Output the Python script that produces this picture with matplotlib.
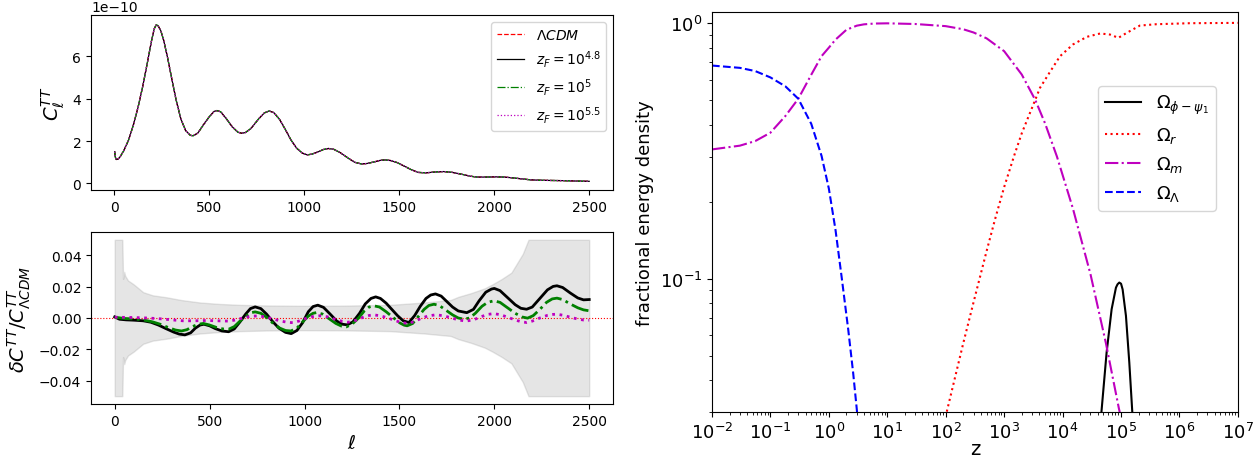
import numpy as np
import matplotlib
matplotlib.use("Agg")
import matplotlib.pyplot as plt
from matplotlib.ticker import LogLocator, NullFormatter

# -----------------------------
# CMB TT spectrum (units of 1e-10)
# -----------------------------
ell_cl = [2, 5, 10, 20, 30, 50, 75, 100, 125, 150, 175, 195, 210, 220, 230, 245,
          260, 280, 300, 325, 350, 375, 400, 415, 440, 470, 500, 525, 540, 560,
          590, 620, 650, 670, 690, 720, 760, 790, 815, 840, 870, 900, 930, 960,
          990, 1015, 1040, 1070, 1100, 1127, 1155, 1190, 1230, 1265, 1300, 1330,
          1370, 1400, 1426, 1455, 1490, 1530, 1565, 1600, 1640, 1690, 1734, 1780,
          1830, 1875, 1910, 1960, 2010, 2050, 2090, 2140, 2190, 2240, 2300, 2370,
          2440, 2500]
cl_lcdm = [1.50, 1.25, 1.13, 1.15, 1.25, 1.55, 2.05, 2.75, 3.60, 4.60, 5.75, 6.70,
           7.30, 7.48, 7.45, 7.20, 6.75, 5.95, 5.05, 3.95, 3.05, 2.50, 2.27, 2.25,
           2.38, 2.78, 3.15, 3.40, 3.44, 3.38, 3.05, 2.68, 2.42, 2.37, 2.40, 2.60,
           3.05, 3.33, 3.42, 3.34, 3.02, 2.55, 2.05, 1.66, 1.43, 1.35, 1.38, 1.48,
           1.60, 1.65, 1.61, 1.45, 1.20, 1.00, 0.92, 0.94, 1.02, 1.09, 1.11, 1.08,
           0.98, 0.80, 0.64, 0.52, 0.50, 0.54, 0.56, 0.52, 0.43, 0.34, 0.30, 0.30,
           0.31, 0.30, 0.27, 0.22, 0.17, 0.15, 0.14, 0.13, 0.11, 0.10]

# -----------------------------
# relative residuals dC/C
# -----------------------------
ell_k = [0, 25, 60, 100, 150, 190, 230, 270, 310, 340, 370, 400, 425, 450, 470,
         500, 530, 565, 600, 630, 660, 690, 715, 740, 770, 800, 830, 865, 900,
         930, 960, 990, 1020, 1045, 1070, 1100, 1135, 1170, 1200, 1225, 1255,
         1290, 1320, 1350, 1375, 1400, 1430, 1460, 1490, 1520, 1550, 1580, 1610,
         1640, 1665, 1690, 1720, 1750, 1780, 1810, 1855, 1890, 1920, 1955, 1985,
         2000, 2030, 2070, 2110, 2140, 2170, 2200, 2240, 2280, 2310, 2330, 2360,
         2400, 2440, 2470, 2500]
res_48 = [0.0007, -0.0008, -0.0012, -0.0014, -0.0018, -0.0027, -0.0045, -0.0068,
          -0.0090, -0.0103, -0.0108, -0.0095, -0.0065, -0.0045, -0.0040, -0.0050,
          -0.0068, -0.0083, -0.0088, -0.0070, -0.0025, 0.0025, 0.0060, 0.0071,
          0.0060, 0.0025, -0.0020, -0.0065, -0.0092, -0.0100, -0.0080, -0.0030,
          0.0040, 0.0073, 0.0082, 0.0068, 0.0025, -0.0020, -0.0040, -0.0044,
          -0.0025, 0.0030, 0.0090, 0.0125, 0.0135, 0.0125, 0.0095, 0.0055, 0.0015,
          -0.0018, -0.0029, 0.0015, 0.0075, 0.0125, 0.0147, 0.0154, 0.0140,
          0.0105, 0.0070, 0.0045, 0.0034, 0.0055, 0.0110, 0.0165, 0.0185, 0.0189,
          0.0175, 0.0130, 0.0085, 0.0062, 0.0056, 0.0070, 0.0125, 0.0180, 0.0202,
          0.0206, 0.0195, 0.0160, 0.0128, 0.0116, 0.0118]

ell_g = [0, 50, 100, 150, 200, 240, 280, 320, 352, 380, 410, 440, 467, 500, 535,
         570, 600, 630, 660, 690, 715, 740, 770, 800, 835, 870, 900, 928, 960,
         990, 1020, 1045, 1065, 1095, 1130, 1165, 1195, 1220, 1250, 1285, 1315,
         1340, 1365, 1395, 1430, 1465, 1500, 1525, 1541, 1570, 1600, 1630, 1655,
         1682, 1710, 1745, 1780, 1810, 1840, 1870, 1900, 1935, 1965, 1998, 2030,
         2070, 2110, 2145, 2175, 2205, 2240, 2275, 2305, 2330, 2360, 2400, 2440,
         2470, 2500]
res_5 = [0.0005, -0.0003, -0.0006, -0.0012, -0.0025, -0.0040, -0.0060, -0.0077,
         -0.0083, -0.0075, -0.0055, -0.0040, -0.0035, -0.0045, -0.0060, -0.0070,
         -0.0072, -0.0055, -0.0020, 0.0010, 0.0033, 0.0039, 0.0030, 0.0005,
         -0.0035, -0.0065, -0.0080, -0.0083, -0.0065, -0.0025, 0.0012, 0.0030,
         0.0035, 0.0025, -0.0005, -0.0035, -0.0052, -0.0057, -0.0040, 0.0000,
         0.0045, 0.0070, 0.0078, 0.0070, 0.0040, 0.0005, -0.0030, -0.0046, -0.0050,
         -0.0035, 0.0010, 0.0055, 0.0080, 0.0088, 0.0080, 0.0050, 0.0020, 0.0000,
         -0.0008, 0.0000, 0.0030, 0.0075, 0.0100, 0.0110, 0.0100, 0.0065, 0.0030,
         0.0007, -0.0001, 0.0015, 0.0055, 0.0100, 0.0122, 0.0127, 0.0118, 0.0090,
         0.0065, 0.0052, 0.0046]

ell_m = [0, 50, 100, 150, 200, 250, 300, 360, 420, 480, 540, 600, 640, 680, 720,
         750, 790, 830, 870, 910, 940, 970, 1000, 1040, 1080, 1120, 1160, 1200,
         1230, 1270, 1310, 1340, 1365, 1400, 1440, 1480, 1515, 1541, 1575, 1610,
         1650, 1690, 1730, 1770, 1810, 1850, 1890, 1930, 1965, 1998, 2035, 2075,
         2110, 2145, 2171, 2200, 2240, 2280, 2310, 2330, 2365, 2400, 2440, 2470,
         2500]
res_55 = [0.0005, 0.0004, 0.0003, 0.0001, -0.0002, -0.0006, -0.0012, -0.0018,
          -0.0018, -0.0016, -0.0018, -0.0020, -0.0012, 0.0002, 0.0011, 0.0013,
          0.0008, -0.0005, -0.0018, -0.0028, -0.0030, -0.0020, -0.0006, 0.0008,
          0.0014, 0.0008, -0.0008, -0.0022, -0.0027, -0.0015, 0.0005, 0.0016,
          0.0020, 0.0014, 0.0000, -0.0018, -0.0030, -0.0034, -0.0025, -0.0005,
          0.0013, 0.0020, 0.0015, 0.0002, -0.0012, -0.0020, -0.0012, 0.0008,
          0.0023, 0.0028, 0.0020, 0.0003, -0.0013, -0.0025, -0.0029, -0.0020,
          0.0000, 0.0017, 0.0023, 0.0024, 0.0017, 0.0005, -0.0007, -0.0013,
          -0.0014]

# cosmic variance / error band (symmetric)
ell_err = [0, 40, 44, 50, 55, 70, 100, 150, 200, 275, 350, 450, 550, 660, 800,
           980, 1200, 1450, 1630, 1770, 1810, 1880, 1950, 1990, 2040, 2090, 2150,
           2180, 2500]
err = [0.05, 0.05, 0.025, 0.0295, 0.027, 0.024, 0.0215, 0.0165, 0.0145, 0.0132,
       0.0115, 0.0099, 0.009, 0.0084, 0.008, 0.0078, 0.0079, 0.0084, 0.0099,
       0.0115, 0.0135, 0.016, 0.019, 0.0215, 0.025, 0.029, 0.041, 0.05, 0.05]

# -----------------------------
# fractional energy densities vs redshift
# -----------------------------
z_lam = [0.01, 0.03, 0.055, 0.1, 0.18, 0.3, 0.5, 0.75, 1.0, 1.3, 1.65, 2.15, 2.6,
         3.0, 3.5, 4.5]
om_lam = [0.681, 0.667, 0.648, 0.612, 0.565, 0.505, 0.403, 0.302, 0.225, 0.155,
          0.102, 0.063, 0.043, 0.031, 0.021, 0.011]

z_mat = [0.01, 0.03, 0.055, 0.1, 0.18, 0.3, 0.5, 0.75, 1.0, 1.3, 2.0, 3.0, 4.0,
         6.0, 10, 30, 100, 200, 300, 500, 1000, 2000, 3400, 5000, 8000, 1.5e4,
         3e4, 5.5e4, 9.2e4, 1.3e5, 2e5]
om_mat = [0.32, 0.331, 0.345, 0.372, 0.432, 0.505, 0.627, 0.741, 0.80, 0.86, 0.94,
          0.975, 0.987, 0.994, 0.996, 0.99, 0.971, 0.944, 0.917, 0.87, 0.775,
          0.628, 0.50, 0.405, 0.30, 0.188, 0.104, 0.056, 0.031, 0.022, 0.0145]

z_rad = [30, 100, 200, 300, 500, 700, 1000, 1500, 2000, 3400, 4100, 6000, 9000,
         1.5e4, 2.6e4, 4.4e4, 6.5e4, 9e4, 1.25e5, 2.1e5, 4e5, 1.5e6, 1e7]
om_rad = [0.009, 0.029, 0.056, 0.081, 0.128, 0.171, 0.228, 0.305, 0.37, 0.50,
          0.557, 0.64, 0.74, 0.823, 0.882, 0.909, 0.90, 0.874, 0.914, 0.976,
          0.988, 0.997, 1.0]

z_phi = [3.16e4, 4.53e4, 5.66e4, 6.9e4, 8.18e4, 8.71e4, 9.33e4, 1.0e5, 1.064e5,
         1.213e5, 1.384e5, 1.578e5, 2.0e5]
om_phi = [0.01, 0.0286, 0.0514, 0.0759, 0.0922, 0.095, 0.0965, 0.0955, 0.0907,
          0.0715, 0.047, 0.0286, 0.01]

fig = plt.figure(figsize=(12.55, 4.6), dpi=100)
ax1 = fig.add_axes([0.0725, 0.5848, 0.4159, 0.3804])
ax2 = fig.add_axes([0.0725, 0.1196, 0.4159, 0.3739])
ax3 = fig.add_axes([0.5673, 0.1015, 0.4191, 0.8696])

## top: spectra (all four curves sit on top of each other)
cl = np.array(cl_lcdm) * 1e-10
ax1.plot(ell_cl, cl, "r--", lw=0.9, label=r"$\Lambda CDM$")
ax1.plot(ell_cl, cl, "k-", lw=0.9, label=r"$z_F=10^{4.8}$")
ax1.plot(ell_cl, cl, "g-.", lw=0.9, label=r"$z_F=10^{5}$")
ax1.plot(ell_cl, cl, "m:", lw=0.9, label=r"$z_F=10^{5.5}$")
ax1.set_ylim(-0.31e-10, 7.95e-10)
ax1.set_ylabel(r"$C_\ell^{TT}$", fontsize=14)
ax1.legend(loc="upper right", fontsize=10)

## bottom: residuals with error band
err = np.array(err)
ax2.fill_between(ell_err, -err, err, color="gray", alpha=0.2)
ax2.axhline(0.0, color="r", ls=":", lw=0.8)
ax2.plot(ell_k, res_48, "k-", lw=2)
ax2.plot(ell_g, res_5, "g-.", lw=2)
ax2.plot(ell_m, res_55, "m:", lw=2)
ax2.set_ylim(-0.055, 0.055)
ax2.set_xlabel(r"$\ell$", fontsize=14)
ax2.set_ylabel(r"$\delta C^{TT}/C^{TT}_{\Lambda CDM}$", fontsize=14)

## right: energy budget
ax3.plot(z_phi, om_phi, "k-", lw=1.5, label=r"$\Omega_{\phi-\psi_1}$")
ax3.plot(z_rad, om_rad, "r:", lw=1.5, label=r"$\Omega_r$")
ax3.plot(z_mat, om_mat, "m-.", lw=1.5, label=r"$\Omega_m$")
ax3.plot(z_lam, om_lam, "b--", lw=1.5, label=r"$\Omega_\Lambda$")
ax3.set_xscale("log")
ax3.set_yscale("log")
ax3.set_xlim(1e-2, 1e7)
ax3.set_ylim(0.03, 1.1)
ax3.xaxis.set_major_locator(LogLocator(base=10, numticks=15))
ax3.xaxis.set_minor_locator(LogLocator(base=10, subs=np.arange(2, 10), numticks=15))
ax3.xaxis.set_minor_formatter(NullFormatter())
ax3.tick_params(labelsize=13)
ax3.set_xlabel("z", fontsize=14, labelpad=-2)
ax3.set_ylabel("fractional energy density", fontsize=13)
ax3.legend(loc="center right", bbox_to_anchor=(0.975, 0.66), fontsize=13)

fig.savefig("out.png", dpi=100)
